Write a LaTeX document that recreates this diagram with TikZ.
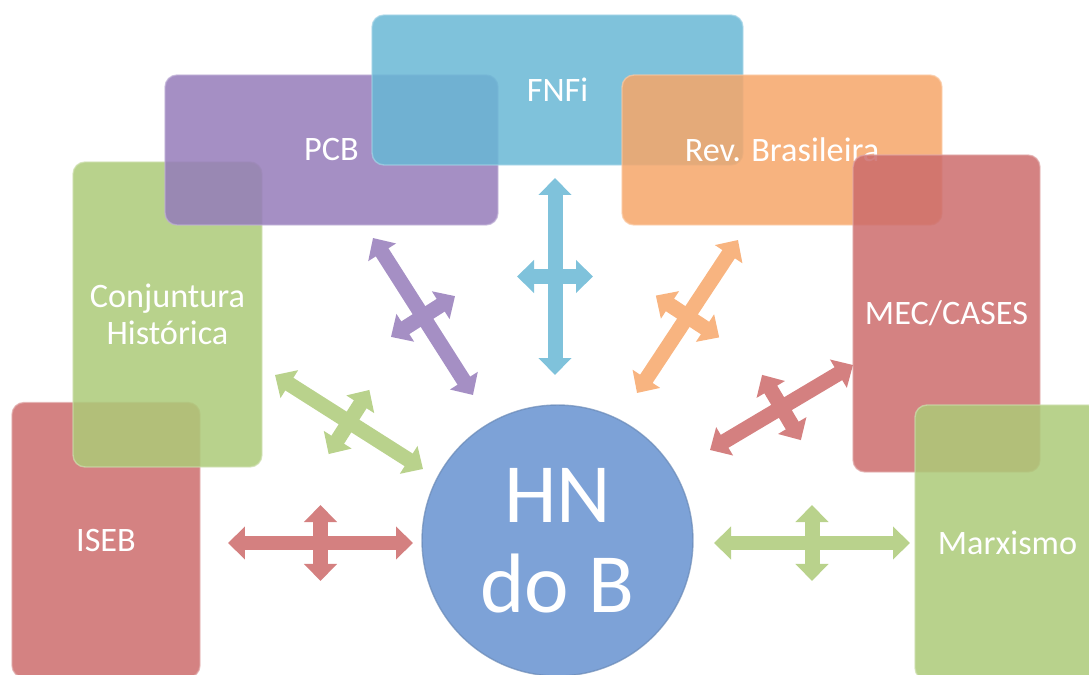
\documentclass[tikz,border=0pt]{standalone}
\usepackage{fontspec}
\setmainfont{Carlito}
\usetikzlibrary{arrows.meta,calc}
\definecolor{redbox}{RGB}{204,108,108}
\definecolor{greenbox}{RGB}{172,202,120}
\definecolor{purplebox}{RGB}{149,123,186}
\definecolor{bluebox}{RGB}{104,183,213}
\definecolor{orangebox}{RGB}{246,166,105}
\definecolor{hnblue}{RGB}{125,162,215}
\definecolor{redlink}{RGB}{212,128,128}
\definecolor{greenlink}{RGB}{185,210,140}
\definecolor{purplelink}{RGB}{165,143,196}
\definecolor{bluelink}{RGB}{127,194,219}
\definecolor{orangelink}{RGB}{248,180,128}
\begin{document}
\begin{tikzpicture}
[x=0.02cm,y=-0.02cm,%
  every node/.style={text=white,align=center,font=\fontsize{19.5}{21}\selectfont},%
  box/.style={rectangle,rounded corners=0.24cm,fill opacity=0.85,draw opacity=0.7,text opacity=1,line width=0.8pt},%
  link/.style={line width=0.3cm,{Triangle[width=0.64cm,length=0.34cm]}-{Triangle[width=0.64cm,length=0.34cm]}}]
\useasboundingbox (0,0) rectangle (1089,675);
\clip (0,0) rectangle (1089,675);
\node[box,fill=redbox,draw=redbox!60!white,minimum width=3.76cm,minimum height=5.5cm] (iseb) at (106,540) {ISEB};
\node[box,fill=greenbox,draw=greenbox!60!white,minimum width=3.78cm,minimum height=6.1cm] (conj) at (167.5,314.5) {Conjuntura\\Histórica};
\node[box,fill=purplebox,draw=purplebox!60!white,minimum width=6.66cm,minimum height=3cm] (pcb) at (331.5,150) {PCB};
\node[box,fill=bluebox,draw=bluebox!60!white,minimum width=7.42cm,minimum height=3cm] (fnfi) at (557.5,90) {FNFi};
\node[box,fill=orangebox,draw=orangebox!60!white,minimum width=6.4cm,minimum height=3cm] (rev) at (782,150) {Rev. Brasileira};
\node[box,fill=redbox,draw=redbox!60!white,minimum width=3.74cm,minimum height=6.34cm] (mec) at (946.5,313.5) {MEC/CASES};
\node[box,fill=greenbox,draw=greenbox!60!white,minimum width=3.7cm,minimum height=5.5cm] (marx) at (1007.5,542.5) {Marxismo};
\node[circle,fill=hnblue,draw=hnblue!85!black,draw opacity=0.7,line width=0.8pt,minimum size=5.42cm,font=\fontsize{48}{51}\selectfont] (hn) at (557.5,540.5) {HN\\do B};
\coordinate (iseb-a) at (228,543);
\coordinate (iseb-b) at (413,543);
\coordinate (conj-a) at (275,375);
\coordinate (conj-b) at (423,469);
\coordinate (pcb-a) at (373,238);
\coordinate (pcb-b) at (473,395);
\coordinate (fnfi-a) at (555,178);
\coordinate (fnfi-b) at (555,375);
\coordinate (rev-a) at (738,240);
\coordinate (rev-b) at (637,393);
\coordinate (mec-a) at (853,365);
\coordinate (mec-b) at (710,450);
\coordinate (marx-a) at (910,543);
\coordinate (marx-b) at (714,543);
\foreach \p/\c in {iseb/redlink,conj/greenlink,pcb/purplelink,fnfi/bluelink,rev/orangelink,mec/redlink,marx/greenlink}
{
  \draw[link,\c] (\p-a) -- (\p-b);
  \draw[link,\c] ($(\p-a)!0.5!(\p-b)!0.76cm!90:(\p-b)$) -- ($(\p-a)!0.5!(\p-b)!0.76cm!-90:(\p-b)$);
}
\end{tikzpicture}
\end{document}
